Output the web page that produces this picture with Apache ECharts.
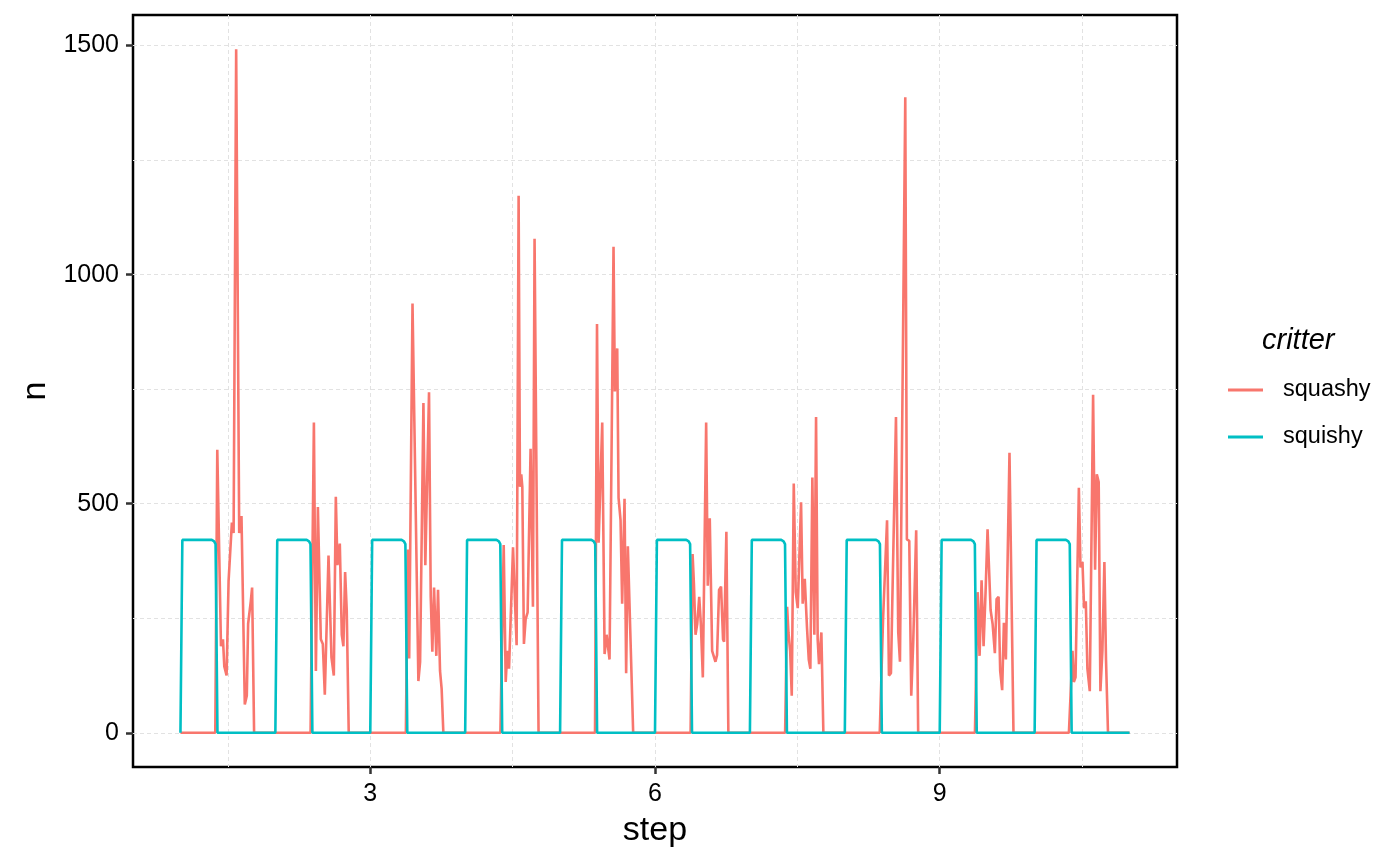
<!DOCTYPE html>
<html>
<head>
<meta charset="utf-8">
<script src="https://cdn.jsdelivr.net/npm/echarts@6/dist/echarts.min.js"></script>
<style>
  html, body { margin: 0; padding: 0; background: #fff; }
  #main { width: 1400px; height: 865px; }
</style>
</head>
<body>
<div id="main"></div>
<script>
// values
var seriesNames = ['squashy', 'squishy'];

var squashyStep = [
    1.000,
    1.367, 1.388, 1.427, 1.448, 1.462, 1.486, 1.507, 1.525, 1.542, 1.560, 1.587, 1.619, 1.643, 1.678, 1.699, 1.713, 1.741, 1.755, 1.776,
    2.371, 2.406, 2.427, 2.448, 2.479, 2.500, 2.521, 2.560, 2.591, 2.616, 2.637, 2.654, 2.679, 2.700, 2.717, 2.735, 2.752, 2.773,
    3.375, 3.396, 3.410, 3.445, 3.507, 3.525, 3.560, 3.580, 3.619, 3.637, 3.654, 3.672, 3.696, 3.714, 3.735, 3.752, 3.770,
    4.371, 4.406, 4.427, 4.444, 4.462, 4.504, 4.542, 4.563, 4.577, 4.591, 4.602, 4.619, 4.637, 4.658, 4.689, 4.700, 4.714, 4.731, 4.773,
    5.368, 5.389, 5.406, 5.413, 5.444, 5.469, 5.490, 5.504, 5.521, 5.563, 5.577, 5.591, 5.602, 5.616, 5.637, 5.654, 5.679, 5.696, 5.714, 5.728, 5.770,
    6.375, 6.396, 6.410, 6.427, 6.445, 6.466, 6.483, 6.504, 6.539, 6.556, 6.577, 6.588, 6.602, 6.616, 6.637, 6.654, 6.675, 6.696, 6.717, 6.728, 6.752, 6.773,
    7.371, 7.392, 7.406, 7.424, 7.441, 7.462, 7.483, 7.504, 7.539, 7.556, 7.578, 7.602, 7.620, 7.637, 7.658, 7.679, 7.697, 7.714, 7.728, 7.753, 7.774,
    8.368, 8.403, 8.445, 8.465, 8.486, 8.500, 8.521, 8.539, 8.563, 8.581, 8.598, 8.637, 8.654, 8.679, 8.700, 8.721, 8.752, 8.773,
    9.371, 9.399, 9.420, 9.441, 9.462, 9.483, 9.504, 9.536, 9.557, 9.581, 9.599, 9.620, 9.637, 9.658, 9.676, 9.697, 9.735, 9.777,
    10.361, 10.399, 10.413, 10.431, 10.466, 10.483, 10.504, 10.521, 10.539, 10.556, 10.581, 10.616, 10.637, 10.655, 10.675, 10.693, 10.714, 10.735, 10.752, 10.773,
    11.000
];
var squashyN = [
    0,
    0, 618, 189, 204, 145, 125, 331, 331, 459, 436, 1492, 436, 473, 62, 81, 238, 287, 317, 0,
    0, 677, 135, 493, 204, 194, 83, 387, 165, 125, 515, 366, 413, 214, 189, 351, 268, 0,
    0, 400, 162, 937, 113, 155, 720, 366, 743, 297, 177, 317, 168, 312, 135, 96, 0,
    0, 410, 111, 179, 140, 405, 191, 1172, 537, 564, 537, 194, 248, 263, 620, 622, 275, 1078, 0,
    0, 892, 415, 413, 677, 172, 214, 212, 160, 1061, 745, 745, 839, 513, 464, 282, 511, 130, 407, 405, 0,
    0, 390, 326, 214, 238, 297, 238, 121, 677, 321, 468, 468, 179, 177, 155, 170, 312, 319, 204, 199, 439, 0,
    0, 275, 219, 179, 81, 544, 307, 272, 503, 282, 336, 228, 160, 140, 557, 214, 689, 204, 150, 219, 0,
    0, 248, 464, 125, 130, 282, 282, 689, 219, 155, 155, 1387, 422, 419, 81, 199, 442, 0,
    0, 307, 168, 333, 189, 307, 444, 268, 238, 174, 292, 297, 135, 93, 240, 160, 611, 0,
    0, 179, 111, 121, 535, 361, 373, 272, 287, 140, 91, 738, 356, 564, 547, 91, 179, 373, 160, 0,
    0
];

var squishyStep = [
    1.00, 1.02, 1.33, 1.355, 1.37, 1.39,
    2.00, 2.02, 2.33, 2.355, 2.37, 2.39,
    3.00, 3.02, 3.33, 3.355, 3.37, 3.39,
    4.00, 4.02, 4.33, 4.355, 4.37, 4.39,
    5.00, 5.02, 5.33, 5.355, 5.37, 5.39,
    6.00, 6.02, 6.33, 6.355, 6.37, 6.39,
    7.00, 7.02, 7.33, 7.355, 7.37, 7.39,
    8.00, 8.02, 8.33, 8.355, 8.37, 8.39,
    9.00, 9.02, 9.33, 9.355, 9.37, 9.39,
    10.00, 10.02, 10.33, 10.355, 10.37, 10.39,
    11.00
];
var squishyN = [
    0, 421, 421, 418, 412, 0,
    0, 421, 421, 418, 412, 0,
    0, 421, 421, 418, 412, 0,
    0, 421, 421, 418, 412, 0,
    0, 421, 421, 418, 412, 0,
    0, 421, 421, 418, 412, 0,
    0, 421, 421, 418, 412, 0,
    0, 421, 421, 418, 412, 0,
    0, 421, 421, 418, 412, 0,
    0, 421, 421, 418, 412, 0,
    0
];

var xLabelTicks = [3, 6, 9];
var xGridTicks = [1.5, 3, 4.5, 6, 7.5, 9, 10.5];
var yLabelTicks = [0, 500, 1000, 1500];
var yGridTicks = [0, 250, 500, 750, 1000, 1250, 1500];

var FONT = 'Liberation Sans';

function pairs(xs, ys) {
    var out = [];
    for (var i = 0; i < xs.length; i++) {
        out.push([xs[i], ys[i]]);
    }
    return out;
}

var chart = echarts.init(document.getElementById('main'));

var gridLine = {
    show: true,
    lineStyle: { color: '#e2e2e2', width: 1, type: [4, 3] }
};

var option = {
    animation: false,
    backgroundColor: '#ffffff',
    textStyle: { fontFamily: FONT },
    color: ['#F8766D', '#00BFC4'],
    grid: {
        left: 133, right: 223, top: 15, bottom: 98,
        show: true,
        borderColor: '#000000',
        borderWidth: 2.5,
        backgroundColor: 'transparent'
    },
    graphic: [{
        type: 'text',
        left: 1262,
        top: 326,
        style: {
            text: 'critter',
            font: 'italic 29px "Liberation Sans"',
            fill: '#000000'
        }
    }],
    legend: {
        data: seriesNames,
        orient: 'vertical',
        left: 1228,
        top: 378,
        padding: 0,
        icon: 'rect',
        itemWidth: 35,
        itemHeight: 3,
        itemGap: 23,
        textStyle: {
            fontFamily: FONT,
            fontSize: 23.5,
            lineHeight: 24,
            color: '#000000',
            padding: [0, 0, 0, 15]
        }
    },
    xAxis: [{
        type: 'value',
        min: 0.5,
        max: 11.5,
        position: 'bottom',
        name: 'step',
        nameLocation: 'middle',
        nameGap: 47,
        nameTextStyle: { fontFamily: FONT, fontSize: 34, color: '#000000' },
        axisLine: { show: false, onZero: false },
        axisTick: {
            show: true, length: 7, customValues: xLabelTicks,
            lineStyle: { color: '#333333', width: 2.5 }
        },
        axisLabel: {
            customValues: xLabelTicks, margin: 15,
            fontFamily: FONT, fontSize: 25, color: '#000000'
        },
        splitLine: { show: false }
    }, {
        type: 'value',
        min: 0.5,
        max: 11.5,
        position: 'top',
        axisLine: { show: false, onZero: false },
        axisTick: { show: false, customValues: xGridTicks },
        axisLabel: { show: false },
        splitLine: gridLine
    }],
    yAxis: [{
        type: 'value',
        min: -74.6,
        max: 1566.6,
        position: 'left',
        name: 'n',
        nameLocation: 'middle',
        nameGap: 80,
        nameTextStyle: { fontFamily: FONT, fontSize: 34, color: '#000000' },
        axisLine: { show: false, onZero: false },
        axisTick: {
            show: true, length: 7, customValues: yLabelTicks,
            lineStyle: { color: '#333333', width: 2.5 }
        },
        axisLabel: {
            customValues: yLabelTicks, margin: 14,
            fontFamily: FONT, fontSize: 25, color: '#000000',
            formatter: function (v) { return String(v); }
        },
        splitLine: { show: false }
    }, {
        type: 'value',
        min: -74.6,
        max: 1566.6,
        position: 'right',
        axisLine: { show: false, onZero: false },
        axisTick: { show: false, customValues: yGridTicks },
        axisLabel: { show: false },
        splitLine: gridLine
    }],
    series: [{
        name: 'squashy',
        type: 'line',
        xAxisIndex: 0,
        yAxisIndex: 0,
        showSymbol: false,
        symbol: 'none',
        lineStyle: { width: 2.6, color: '#F8766D' },
        data: pairs(squashyStep, squashyN)
    }, {
        name: 'squishy',
        type: 'line',
        xAxisIndex: 0,
        yAxisIndex: 0,
        showSymbol: false,
        symbol: 'none',
        lineStyle: { width: 2.6, color: '#00BFC4' },
        data: pairs(squishyStep, squishyN)
    }]
};

chart.setOption(option);
</script>
</body>
</html>
